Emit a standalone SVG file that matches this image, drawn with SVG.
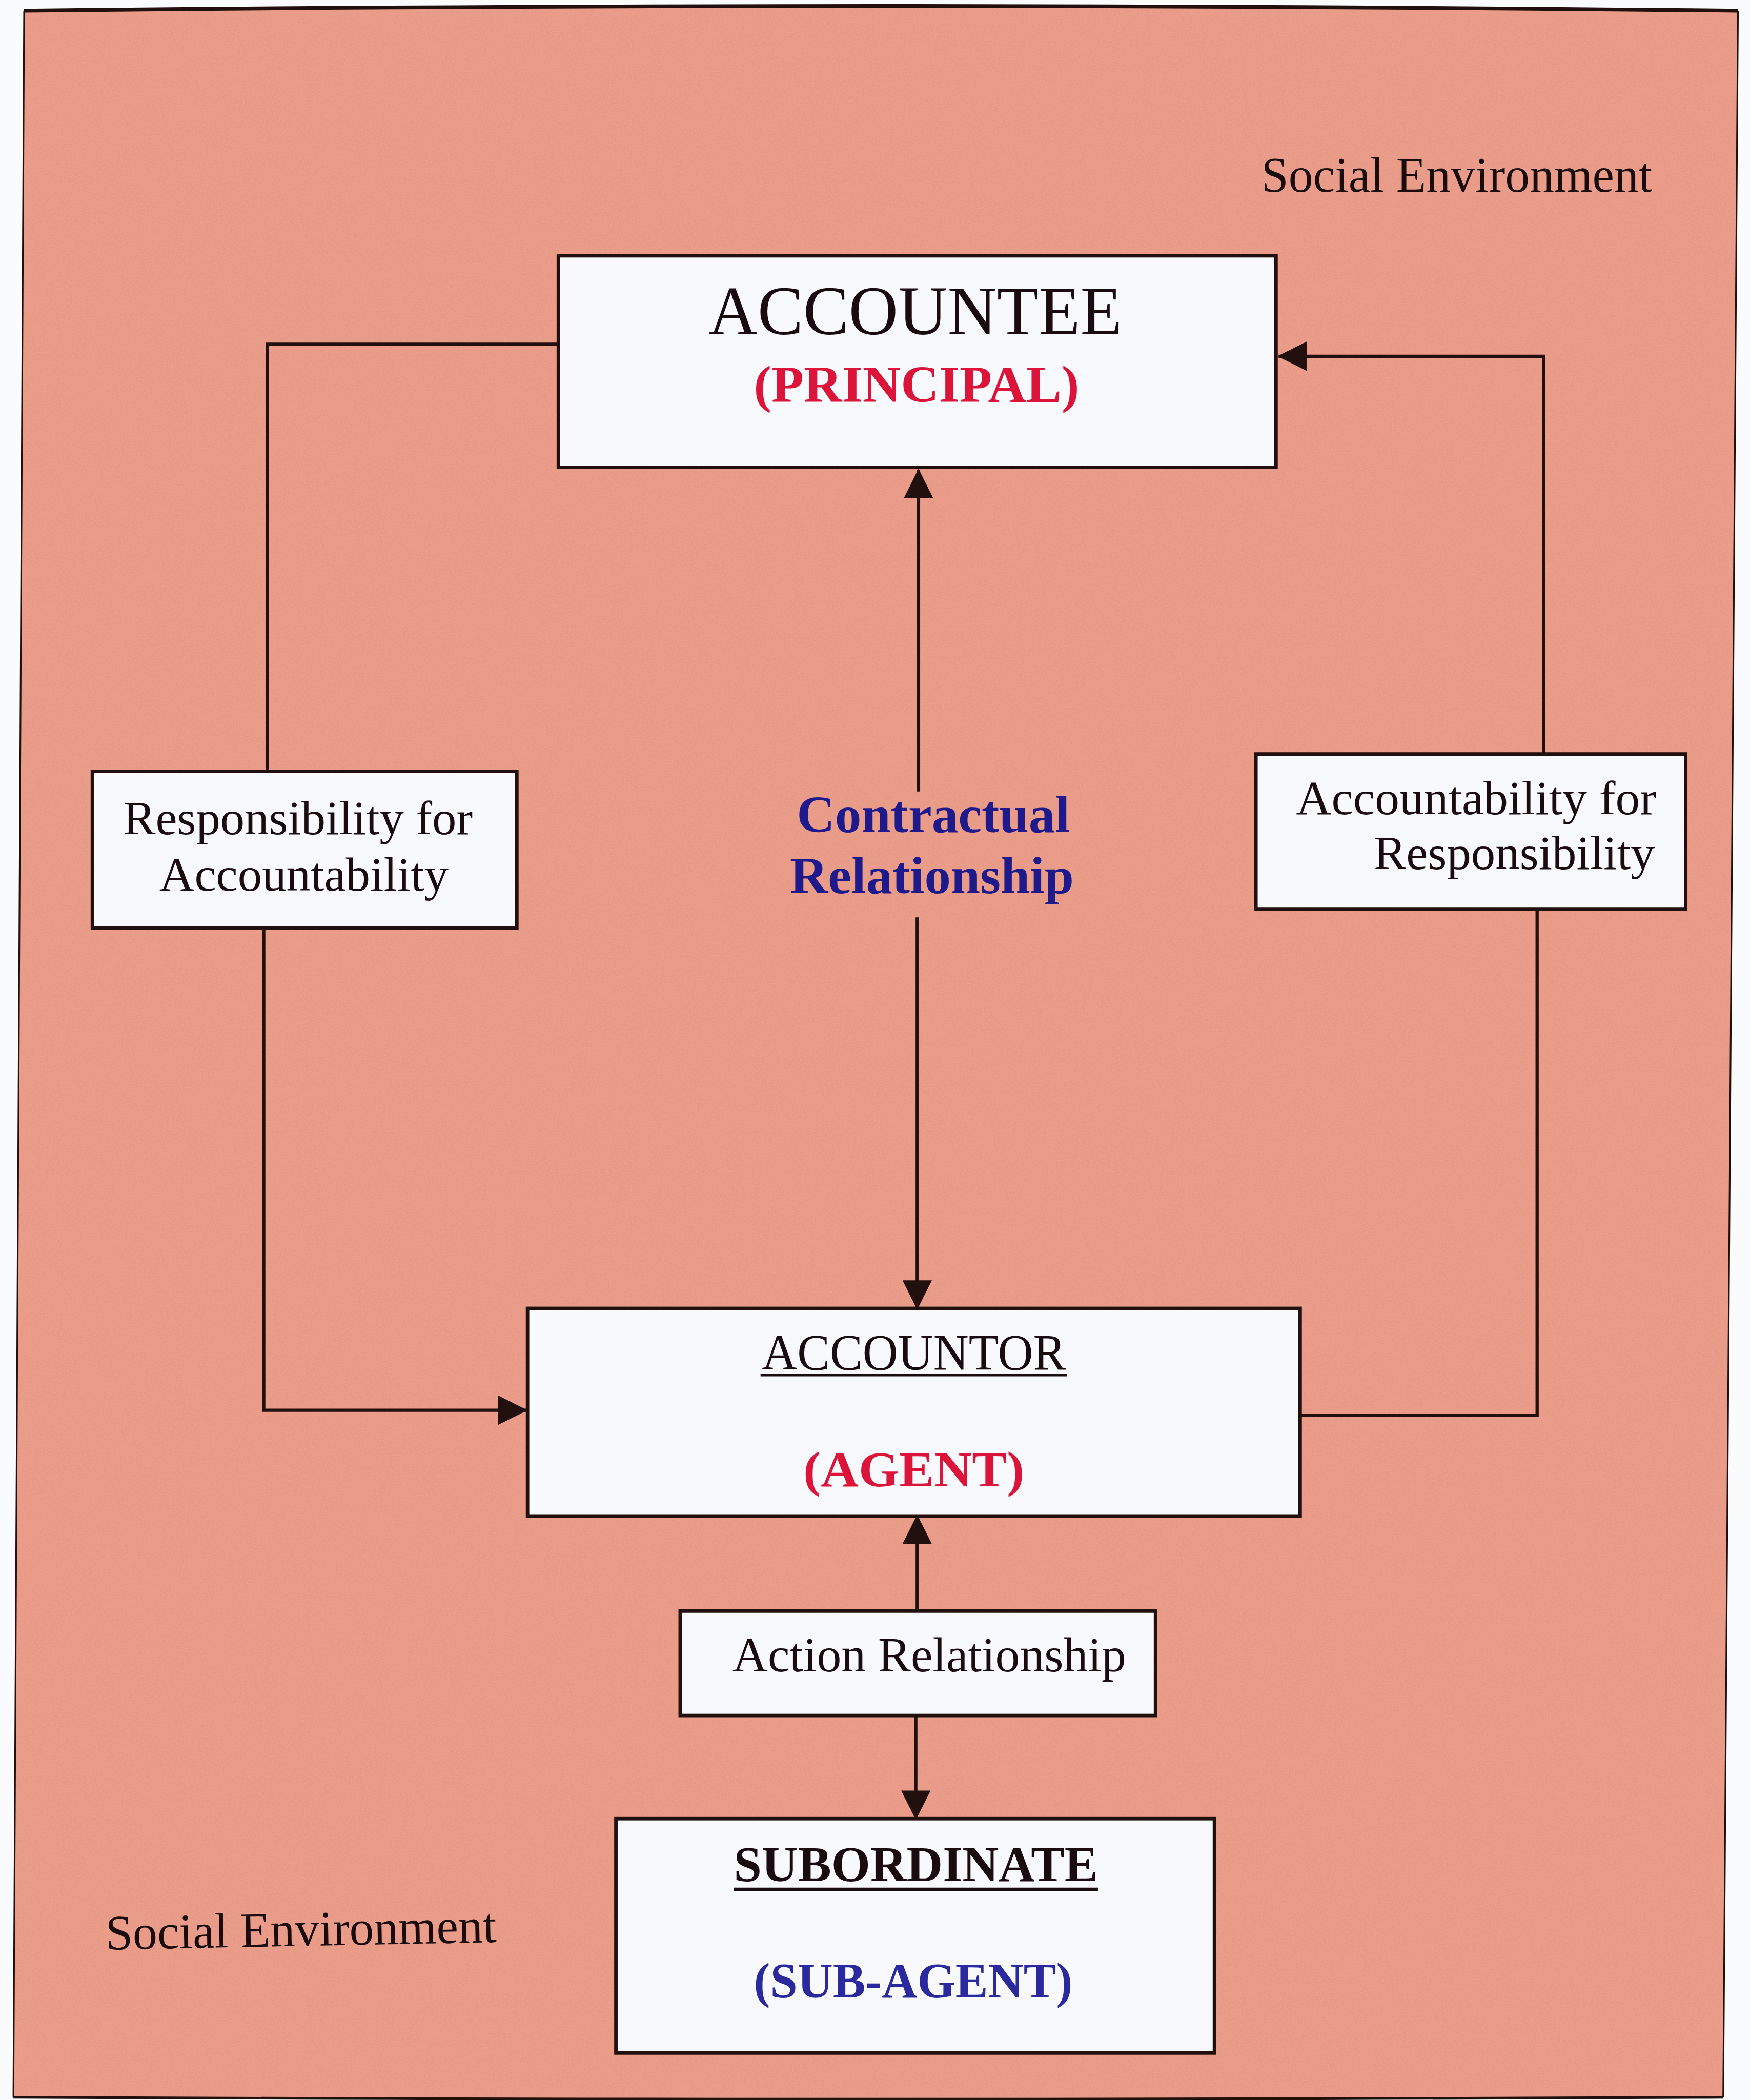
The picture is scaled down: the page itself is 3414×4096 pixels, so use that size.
<svg xmlns="http://www.w3.org/2000/svg" width="3414" height="4096" viewBox="0 0 3414 4096">
  <style>
    .box { fill: #F7F9FC; stroke: #22100F; stroke-width: 2.6; }
    .wire { fill: none; stroke: #22100F; stroke-width: 2.4; }
    .serif { font-family: "Liberation Serif", "Times New Roman", serif; fill: #1A0C0E; }
    .bold { font-weight: bold; }
    .red { fill: #DC1439; }
    .navy { fill: #1E1A8C; }
    .blue { fill: #2A2A9E; }
  </style>
  <defs>
    <marker id="arrow" viewBox="0 0 22 22" refX="21" refY="11" markerWidth="22" markerHeight="22" markerUnits="userSpaceOnUse" orient="auto">
      <path d="M0,0 L22,11 L0,22 Z" fill="#22100F"/>
    </marker>
    <filter id="grain" x="0" y="0" width="100%" height="100%">
      <feTurbulence type="fractalNoise" baseFrequency="0.9" numOctaves="2" seed="7" result="n"/>
      <feColorMatrix in="n" type="matrix" values="0 0 0 0 1  0 0 0 0 0.82  0 0 0 0 0.74  0 0 0 0.9 -0.4"/>
      <feComposite in2="SourceGraphic" operator="in"/>
    </filter>
  </defs>

  <rect width="3414" height="4096" fill="#FAFBFD"/>

  <g transform="scale(2.6121)">
    <!-- page frame: the social environment -->
    <g id="environment">
      <path d="M18,8 Q650,2 1298,8 L1287,1566 Q650,1569 10,1566 Z" fill="#E99A87"/>
      <path d="M18,8 Q650,2 1298,8 L1287,1566 Q650,1569 10,1566 Z" fill="#E99A87" filter="url(#grain)" opacity="0.3"/>
      <path d="M18,8 Q650,1 1298,8" fill="none" stroke="#22100F" stroke-width="2.8"/>
      <path d="M10,1566 Q650,1569 1287,1566" fill="none" stroke="#22100F" stroke-width="2"/>
      <path d="M18,8 L10,1566 M1298,8 L1287,1566" fill="none" stroke="#22100F" stroke-width="1.2"/>
      <text class="serif" x="942" y="143" font-size="37" textLength="292" lengthAdjust="spacingAndGlyphs">Social Environment</text>
      <text class="serif" x="79" y="1453" font-size="37" textLength="292" lengthAdjust="spacingAndGlyphs" transform="rotate(-1.1 225 1453)">Social Environment</text>
    </g>

    <!-- connectors -->
    <g id="connectors">
      <path class="wire" d="M417,257 H199.5 V576"/>
      <path class="wire" d="M197,693 V1053 H393" marker-end="url(#arrow)"/>
      <path class="wire" d="M971,1057 H1148 V679"/>
      <path class="wire" d="M1153,563 V266 H955" marker-end="url(#arrow)"/>
      <path class="wire" d="M686,591 V351" marker-end="url(#arrow)"/>
      <path class="wire" d="M685,685 V977" marker-end="url(#arrow)"/>
      <path class="wire" d="M685,1203 V1132" marker-end="url(#arrow)"/>
      <path class="wire" d="M684,1281 V1358" marker-end="url(#arrow)"/>
    </g>

    <g id="accountee">
      <rect class="box" x="417" y="191" width="536" height="158"/>
      <text class="serif" x="529" y="249.5" font-size="52" textLength="309" lengthAdjust="spacingAndGlyphs">ACCOUNTEE</text>
      <text class="serif bold red" x="563" y="300" font-size="39" textLength="243" lengthAdjust="spacingAndGlyphs">(PRINCIPAL)</text>
    </g>

    <g id="responsibility-for-accountability">
      <rect class="box" x="69" y="576" width="317" height="117"/>
      <text class="serif" x="92" y="623" font-size="36" textLength="261" lengthAdjust="spacingAndGlyphs">Responsibility for</text>
      <text class="serif" x="119" y="665" font-size="36" textLength="216" lengthAdjust="spacingAndGlyphs">Accountability</text>
    </g>

    <g id="accountability-for-responsibility">
      <rect class="box" x="938" y="563" width="321" height="116"/>
      <text class="serif" x="968" y="608" font-size="36" textLength="269" lengthAdjust="spacingAndGlyphs">Accountability for</text>
      <text class="serif" x="1026" y="649" font-size="36" textLength="210" lengthAdjust="spacingAndGlyphs">Responsibility</text>
    </g>

    <g id="contractual-relationship">
      <text class="serif bold navy" x="595" y="621.5" font-size="39" textLength="204" lengthAdjust="spacingAndGlyphs">Contractual</text>
      <text class="serif bold navy" x="590" y="667" font-size="39" textLength="212" lengthAdjust="spacingAndGlyphs">Relationship</text>
    </g>

    <g id="accountor">
      <rect class="box" x="394" y="977" width="577" height="155"/>
      <text class="serif" x="569" y="1022.5" font-size="38" textLength="227" lengthAdjust="spacingAndGlyphs">ACCOUNTOR</text>
      <line x1="568" y1="1026.8" x2="797" y2="1026.8" stroke="#1A0C0E" stroke-width="1.8"/>
      <text class="serif bold red" x="600" y="1110" font-size="37" textLength="165" lengthAdjust="spacingAndGlyphs">(AGENT)</text>
    </g>

    <g id="action-relationship">
      <rect class="box" x="508" y="1203" width="355" height="78"/>
      <text class="serif" x="547" y="1248" font-size="36.5" textLength="294" lengthAdjust="spacingAndGlyphs">Action Relationship</text>
    </g>

    <g id="subordinate">
      <rect class="box" x="460" y="1358" width="447" height="175"/>
      <text class="serif bold" x="548" y="1404.5" font-size="37" textLength="272" lengthAdjust="spacingAndGlyphs">SUBORDINATE</text>
      <line x1="548" y1="1410.8" x2="820" y2="1410.8" stroke="#1A0C0E" stroke-width="2.6"/>
      <text class="serif bold blue" x="563" y="1491.5" font-size="37" textLength="238" lengthAdjust="spacingAndGlyphs">(SUB-AGENT)</text>
    </g>
  </g>
</svg>
